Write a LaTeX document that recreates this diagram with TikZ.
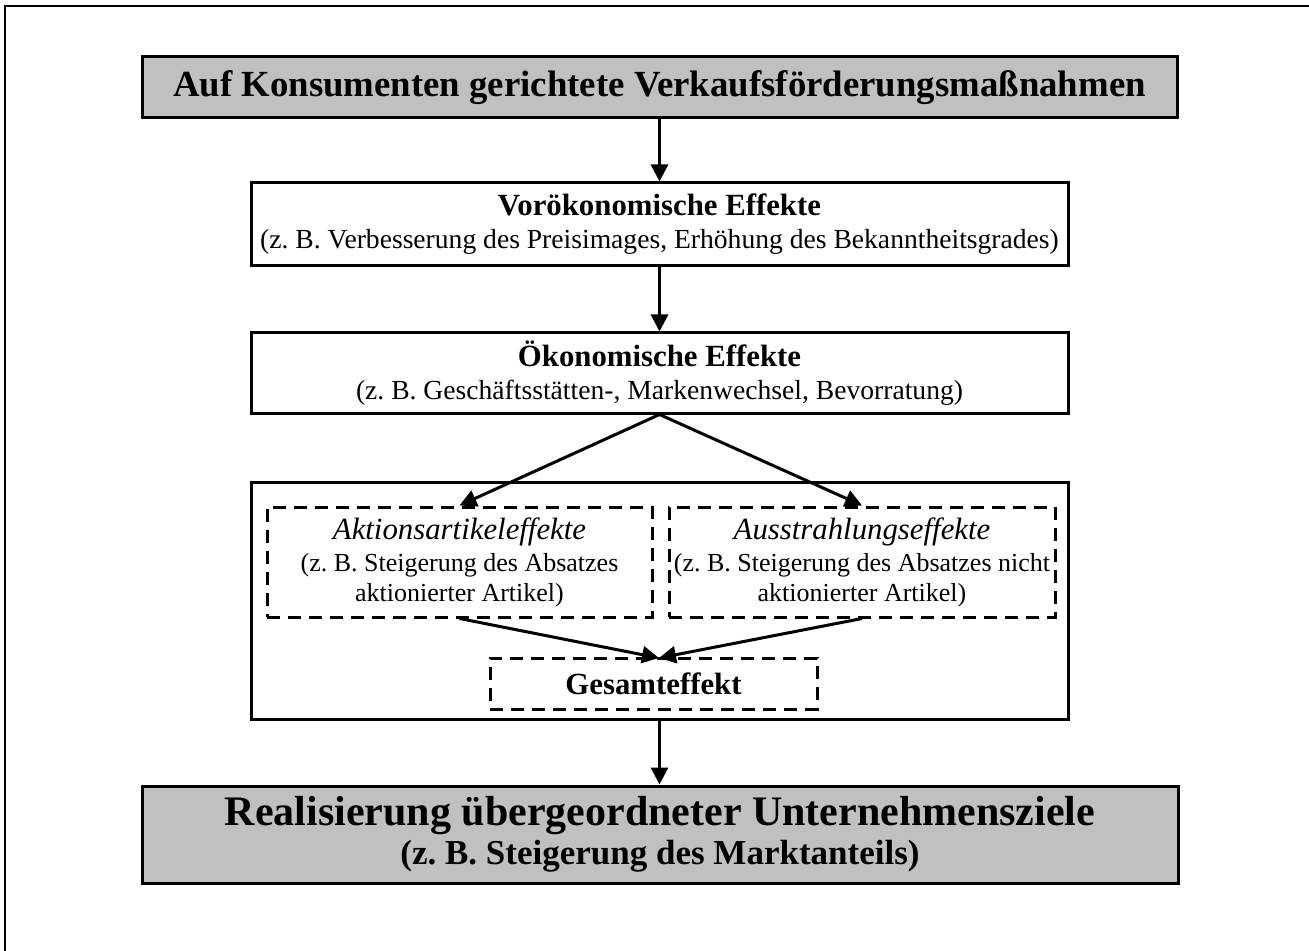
\documentclass[tikz,border=0pt]{standalone}
\usepackage{fontspec}
\setmainfont{Liberation Serif}
\usetikzlibrary{arrows.meta,positioning,calc}
\definecolor{promogray}{HTML}{C0C0C0}
\frenchspacing
\newcommand{\titlefont}{\fontsize{18.4}{21}\selectfont\bfseries}
\newcommand{\goalfont}{\fontsize{21}{18.5}\selectfont\bfseries}
\newcommand{\headfont}{\fontsize{15.4}{17}\selectfont}
\newcommand{\notefont}{\fontsize{13.8}{16}\selectfont}
\newcommand{\partfont}{\fontsize{13}{15.5}\selectfont}
\tikzset{
  flowarrow/.style={-{Triangle[length=8.5pt,width=8.5pt]}, line width=1.5pt, draw=black},
  mainbox/.style={draw=black, line width=1.5pt, fill=promogray, align=center,
    inner sep=0pt},
  effectbox/.style={draw=black, line width=1.5pt, fill=white, align=center,
    inner sep=0pt},
  partbox/.style={draw=black, line width=1.5pt, dash pattern=on 6.5pt off 4pt,
    align=center, inner sep=0pt},
  framebox/.style={draw=black, line width=1pt}
}

\begin{document}
\begin{tikzpicture}[x=0.5pt, y=-0.5pt]
    \useasboundingbox (0,0) rectangle (1309,951);
    % outer frame, open at right and bottom
    \coordinate (frametl) at (5,6);
    \draw[framebox] (frametl |- 0,960) -- (frametl) -- (1320,6);

    \node[mainbox, minimum width=517.5pt, minimum height=30.5pt] (promo) at (659.5,87.5)
        {\titlefont Auf Konsumenten gerichtete Verkaufsförderungsmaßnahmen};
    \node[effectbox, minimum width=408.5pt, minimum height=41.5pt, font=\notefont] (preeco) at (659.5,224.5)
        {{\headfont\bfseries Vorökonomische Effekte}\\[0.5pt]
         (z. B. Verbesserung des Preisimages, Erhöhung des Bekanntheitsgrades)};
    \node[effectbox, minimum width=408.5pt, minimum height=40pt, font=\notefont] (eco) at (659.5,373)
        {{\headfont\bfseries Ökonomische Effekte}\\[0.5pt]
         (z. B. Geschäftsstätten-, Markenwechsel, Bevorratung)};

    % region holding the partial effects
    \node[effectbox, minimum width=408.5pt, minimum height=118.5pt] (region) at (659.5,600.5) {};
    \node[partbox, minimum width=192.5pt, minimum height=55pt, font=\partfont] (item) at (459.5,562)
        {{\headfont\itshape Aktionsartikeleffekte}\\[0.5pt]
         (z. B. Steigerung des Absatzes\\[-0.5pt] aktionierter Artikel)};
    \node[partbox, minimum width=193pt, minimum height=55pt, font=\partfont] (spill) at (862,562)
        {{\headfont\itshape Ausstrahlungseffekte}\\[0.5pt]
         (z. B. Steigerung des Absatzes nicht\\[-0.5pt] aktionierter Artikel)};
    \node[partbox, minimum width=163.5pt, minimum height=25.5pt] (total) at (653.5,683.5)
        {\headfont\bfseries Gesamteffekt};
    \coordinate (totalin) at (659,658);

    \node[mainbox, minimum width=518pt, minimum height=48.5pt, font=\goalfont] (goal) at (660,834.5)
        {Realisierung übergeordneter Unternehmensziele\\[1pt]
         {\fontsize{17.5}{18.5}\selectfont\bfseries (z. B. Steigerung des Marktanteils)}};

    \draw[flowarrow] (promo) -- (preeco);
    \draw[flowarrow] (preeco) -- (eco);
    \draw[flowarrow] (eco.south) -- (item.north);
    \draw[flowarrow] (eco.south) -- (spill.north);
    \draw[flowarrow] (item.south) -- (totalin);
    \draw[flowarrow] (spill.south) -- (totalin);
    \draw[flowarrow] (region.south) -- (goal.north -| region.south);
\end{tikzpicture}
\end{document}
